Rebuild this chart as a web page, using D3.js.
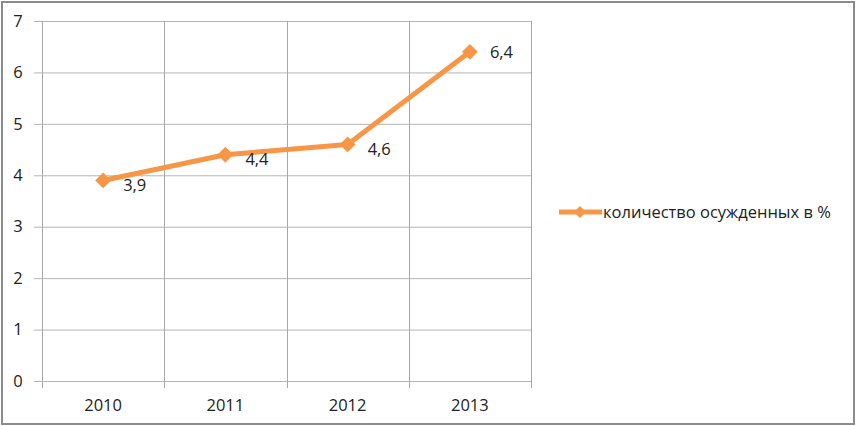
<!DOCTYPE html>
<html lang="ru">
<head>
<meta charset="UTF-8">
<title>количество осужденных в %</title>
<script src="https://d3js.org/d3.v7.min.js"></script>
<style>
  body { margin: 0; background: #fff; }
  svg text { font-family: "Open Sans", "DejaVu Sans", sans-serif; fill: #222; }
</style>
</head>
<body>
<div id="chart"></div>
<script>
const years = ["2010", "2011", "2012", "2013"];
const values = [3.9, 4.4, 4.6, 6.4];
const labels = ["3,9", "4,4", "4,6", "6,4"];
const yTicks = [0, 1, 2, 3, 4, 5, 6, 7];
const seriesName = "количество осужденных в %";

const W = 856, H = 426;
const margin = {top: 21, right: 325, bottom: 45, left: 42};
const orange = "#f79646";
const fs = "16.5px";

const svg = d3.select("#chart").append("svg")
  .attr("width", W)
  .attr("height", H);

// outer frame
svg.append("rect")
  .attr("x", 2).attr("y", 2)
  .attr("width", W - 4).attr("height", H - 4)
  .attr("fill", "#fff")
  .attr("stroke", "#8c8c8c")
  .attr("stroke-width", 2);

const x = d3.scaleBand().domain(years).range([margin.left, W - margin.right]);
const y = d3.scaleLinear().domain([0, 7]).range([H - margin.bottom, margin.top]);

// horizontal grid
svg.append("g")
  .selectAll("line")
  .data(yTicks)
  .join("line")
  .attr("x1", margin.left - 8)
  .attr("x2", W - margin.right)
  .attr("y1", d => y(d) + 0.5)
  .attr("y2", d => y(d) + 0.5)
  .attr("stroke", "#b5b5b5");

// vertical grid at category boundaries
const bounds = years.map(d => x(d)).concat([x(years[years.length - 1]) + x.bandwidth()]);
svg.append("g")
  .selectAll("line")
  .data(bounds)
  .join("line")
  .attr("x1", d => Math.round(d) + 0.5)
  .attr("x2", d => Math.round(d) + 0.5)
  .attr("y1", margin.top)
  .attr("y2", H - margin.bottom + 7)
  .attr("stroke", "#a8a8a8");

// y labels
svg.append("g")
  .selectAll("text")
  .data(yTicks)
  .join("text")
  .attr("x", 18)
  .attr("y", d => y(d))
  .attr("dy", "0.35em")
  .attr("text-anchor", "middle")
  .style("font-size", fs)
  .text(d => d);

// x labels
svg.append("g")
  .selectAll("text")
  .data(years)
  .join("text")
  .attr("x", d => x(d) + x.bandwidth() / 2)
  .attr("y", 405)
  .attr("dy", "0.35em")
  .attr("text-anchor", "middle")
  .style("font-size", fs)
  .text(d => d);

const pts = years.map((d, i) => ({year: d, v: values[i], label: labels[i]}));
const cx = d => x(d.year) + x.bandwidth() / 2;

const line = d3.line().x(cx).y(d => y(d.v));
svg.append("path")
  .datum(pts)
  .attr("d", line)
  .attr("fill", "none")
  .attr("stroke", orange)
  .attr("stroke-width", 5)
  .attr("stroke-linejoin", "round");

const diamond = d3.symbol().type(d3.symbolDiamond2).size(160);
svg.append("g")
  .selectAll("path")
  .data(pts)
  .join("path")
  .attr("transform", d => `translate(${cx(d)},${y(d.v)})`)
  .attr("d", diamond)
  .attr("fill", orange);

svg.append("g")
  .selectAll("text")
  .data(pts)
  .join("text")
  .attr("x", d => cx(d) + 20)
  .attr("y", d => y(d.v) + (d.v > 6 ? 0 : 5))
  .attr("dy", "0.35em")
  .style("font-size", fs)
  .text(d => d.label);

// legend
const ly = 212;
svg.append("line")
  .attr("x1", 559).attr("x2", 602)
  .attr("y1", ly).attr("y2", ly)
  .attr("stroke", orange)
  .attr("stroke-width", 5);
svg.append("path")
  .attr("transform", `translate(580,${ly})`)
  .attr("d", d3.symbol().type(d3.symbolDiamond2).size(90))
  .attr("fill", orange);
svg.append("text")
  .attr("x", 603)
  .attr("y", ly)
  .attr("dy", "0.35em")
  .style("font-size", fs)
  .text(seriesName);
</script>
</body>
</html>
